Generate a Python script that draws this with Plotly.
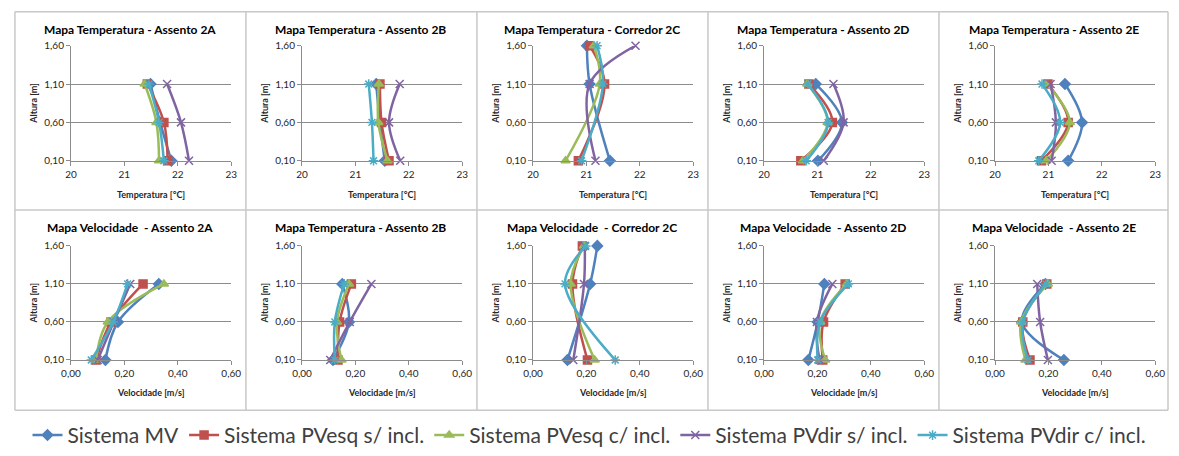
import plotly.graph_objects as go

# ---------------- data ----------------
series_names = ["Sistema MV", "Sistema PVesq s/ incl.", "Sistema PVesq c/ incl.",
                "Sistema PVdir s/ incl.", "Sistema PVdir c/ incl."]
series_colors = ["#4F81BD", "#C0504D", "#9BBB59", "#8064A2", "#4BACC6"]
series_symbols = ["diamond", "square", "triangle-up", "x-thin-open", "asterisk-open"]

panel_titles = [
    "Mapa Temperatura - Assento 2A", "Mapa Temperatura - Assento 2B",
    "Mapa Temperatura - Corredor 2C", "Mapa Temperatura - Assento 2D",
    "Mapa Temperatura - Assento 2E",
    "Mapa Velocidade  - Assento 2A", "Mapa Temperatura - Assento 2B",
    "Mapa Velocidade  - Corredor 2C", "Mapa Velocidade  - Assento 2D",
    "Mapa Velocidade  - Assento 2E",
]

heights_seat = [0.10, 0.60, 1.10]
heights_corr = [0.10, 1.10, 1.60]

# temperature [°C]: rows = series (MV, PVesq s/, PVesq c/, PVdir s/, PVdir c/)
temp_2A = [[21.88, 21.67, 21.49], [21.81, 21.74, 21.43], [21.65, 21.60, 21.38],
           [22.21, 22.06, 21.80], [21.74, 21.65, 21.46]]
temp_2B = [[21.55, 21.46, 21.39], [21.63, 21.49, 21.46], [21.60, 21.43, 21.44],
           [21.84, 21.63, 21.83], [21.34, 21.31, 21.25]]
temp_2C = [[21.44, 21.06, 21.01], [20.85, 21.34, 21.06], [20.61, 21.25, 21.14],
           [21.17, 21.06, 21.92], [20.91, 21.31, 21.20]]
temp_2D = [[21.01, 21.46, 20.97], [20.69, 21.28, 20.84], [20.73, 21.19, 20.81],
           [21.12, 21.49, 21.30], [20.79, 21.20, 20.82]]
temp_2E = [[21.37, 21.63, 21.31], [20.87, 21.37, 20.99], [20.96, 21.40, 20.97],
           [21.06, 21.14, 21.04], [20.82, 21.22, 20.88]]

# velocity [m/s]
vel_2A = [[0.129, 0.176, 0.329], [0.094, 0.150, 0.270], [0.094, 0.138, 0.348],
          [0.100, 0.160, 0.222], [0.076, 0.158, 0.212]]
vel_2B = [[0.116, 0.176, 0.151], [0.135, 0.141, 0.185], [0.148, 0.131, 0.176],
          [0.106, 0.179, 0.260], [0.123, 0.123, 0.158]]
vel_2C = [[0.129, 0.214, 0.241], [0.204, 0.148, 0.185], [0.231, 0.141, 0.191],
          [0.151, 0.191, 0.194], [0.308, 0.120, 0.198]]
vel_2D = [[0.166, 0.201, 0.226], [0.220, 0.223, 0.304], [0.229, 0.210, 0.310],
          [0.208, 0.198, 0.256], [0.201, 0.210, 0.316]]
vel_2E = [[0.258, 0.101, 0.189], [0.131, 0.104, 0.194], [0.114, 0.098, 0.198],
          [0.198, 0.169, 0.158], [0.123, 0.104, 0.191]]

panel_data = [temp_2A, temp_2B, temp_2C, temp_2D, temp_2E,
              vel_2A, vel_2B, vel_2C, vel_2D, vel_2E]
panel_heights = [heights_seat, heights_seat, heights_corr, heights_seat, heights_seat,
                 heights_seat, heights_seat, heights_corr, heights_seat, heights_seat]

y_ticks = [0.10, 0.60, 1.10, 1.60]
temp_ticks = [20, 21, 22, 23]
vel_ticks = [0.00, 0.20, 0.40, 0.60]
x_title_temp = "Temperatura [°C]"
x_title_vel = "Velocidade [m/s]"
y_title = "Altura [m]"

# ---------------- figure ----------------
W, H = 1179, 456
FONT = "Lato, Carlito, Calibri, sans-serif"
GRID = "#8c8c8c"
TXT = "#262626"

fig = go.Figure()
layout = dict(
    width=W, height=H, margin=dict(l=0, r=0, t=0, b=0),
    paper_bgcolor="white", plot_bgcolor="white",
    separators=",.",
    font=dict(family=FONT, color=TXT, size=10),
    showlegend=True,
    legend=dict(orientation="h", x=0.5, xanchor="center", y=1 - 443 / H, yanchor="middle",
                font=dict(size=21, color="#404040", family=FONT), itemwidth=30,
                tracegroupgap=0, bgcolor="rgba(0,0,0,0)"),
)
annotations = []
shapes = []

cell_w = 235
for i in range(10):
    r, c = divmod(i, 5)
    idx = i + 1
    xa = "xaxis" if idx == 1 else f"xaxis{idx}"
    ya = "yaxis" if idx == 1 else f"yaxis{idx}"
    xr = "x" if idx == 1 else f"x{idx}"
    yr = "y" if idx == 1 else f"y{idx}"
    left = 62 + cell_w * c
    right = 225 + cell_w * c
    if r == 0:
        top, bot = 40, 159
    else:
        top, bot = 247, 365
    is_temp = r == 0
    xticks = temp_ticks if is_temp else vel_ticks
    layout[xa] = dict(
        domain=[left / W, right / W], anchor=yr,
        range=[xticks[0], xticks[-1]], tickvals=xticks,
        tickformat="d" if is_temp else ".2f",
        showline=True, linecolor=GRID, linewidth=1, showgrid=False, zeroline=False,
        ticks="outside", ticklen=4, tickcolor=GRID,
        tickfont=dict(size=10, color=TXT, family=FONT), fixedrange=True,
    )
    layout[ya] = dict(
        domain=[1 - bot / H, 1 - top / H], anchor=xr,
        range=[0.10, 1.60], tickvals=y_ticks, tickformat=".2f",
        showline=True, linecolor=GRID, linewidth=1, showgrid=True, gridcolor=GRID,
        gridwidth=1, zeroline=False, ticks="outside", ticklen=4, tickcolor=GRID,
        tickfont=dict(size=10, color=TXT, family=FONT), fixedrange=True,
    )
    hs = panel_heights[i]
    for s in range(5):
        fig.add_trace(go.Scatter(
            x=panel_data[i][s], y=hs, xaxis=xr, yaxis=yr,
            mode="lines+markers", name=series_names[s], legendgroup=series_names[s],
            showlegend=(i == 0), cliponaxis=False,
            line=dict(color=series_colors[s], width=2.5, shape="spline"),
            marker=dict(symbol=series_symbols[s], size=8, color=series_colors[s],
                        line=dict(color=series_colors[s], width=1.5)),
        ))
    # panel title
    cx = 122 + cell_w * c
    ty = 23 if r == 0 else 228
    annotations.append(dict(
        text=f"<b>{panel_titles[i]}</b>", x=cx / W, y=1 - ty / H, xref="paper", yref="paper",
        xanchor="center", yanchor="middle", showarrow=False,
        font=dict(size=12, color="#000000", family=FONT)))
    # x axis title
    xty = 194 if r == 0 else 399
    annotations.append(dict(
        text=f"<b>{x_title_temp if is_temp else x_title_vel}</b>",
        x=(left + right) / 2 / W, y=1 - xty / H, xref="paper", yref="paper",
        xanchor="center", yanchor="middle", showarrow=False,
        font=dict(size=9, color=TXT, family=FONT)))
    # y axis title
    annotations.append(dict(
        text=f"<b>{y_title}</b>", x=(24 + cell_w * c) / W, y=1 - (top + bot) / 2 / H,
        xref="paper", yref="paper", xanchor="center", yanchor="middle", showarrow=False,
        textangle=-90, font=dict(size=9, color=TXT, family=FONT)))

# cell borders (light frame)
BORDER = "#c8c8c8"
for xv in [5, 240, 475, 710, 945, 1178]:
    shapes.append(dict(type="line", xref="paper", yref="paper",
                       x0=xv / W, x1=xv / W, y0=1 - 417 / H, y1=1 - 5 / H,
                       line=dict(color=BORDER, width=1.5)))
for yv in [5, 210, 417]:
    shapes.append(dict(type="line", xref="paper", yref="paper",
                       x0=5 / W, x1=1178 / W, y0=1 - yv / H, y1=1 - yv / H,
                       line=dict(color=BORDER, width=1.5)))

layout["annotations"] = annotations
layout["shapes"] = shapes
fig.update_layout(**layout)
fig.write_html("out.html",
               post_script="document.body.style.margin='0';document.body.style.overflow='hidden';")
